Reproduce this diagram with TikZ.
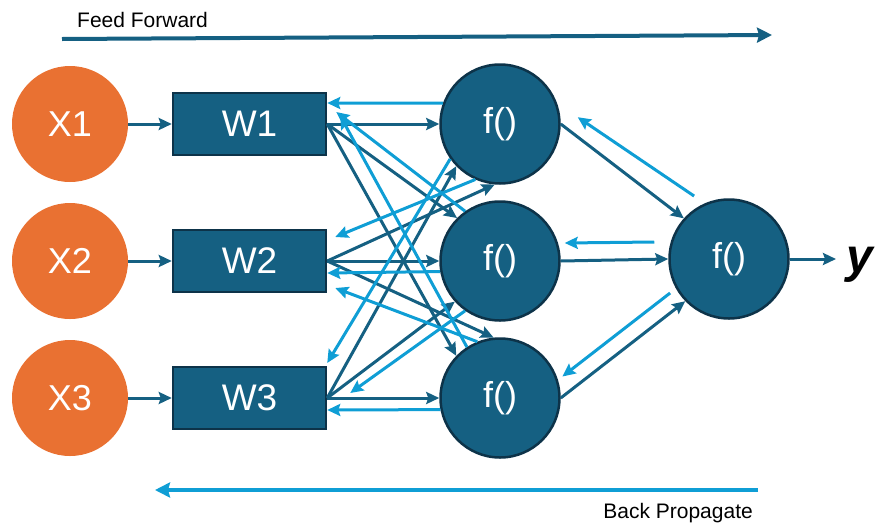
\documentclass[tikz,border=0pt]{standalone}
\usepackage{fontspec}
\setmainfont{Liberation Sans}
\usetikzlibrary{arrows.meta,calc}

\definecolor{nnorange}{HTML}{E97132}
\definecolor{nnblue}{HTML}{156082}
\definecolor{nnedge}{HTML}{0D3349}
\definecolor{nnlight}{HTML}{0F9ED5}

\tikzset{
  xnode/.style={circle, fill=nnorange, minimum size=116pt, inner sep=0pt,
    text=white, font=\fontsize{36}{36}\selectfont},
  wbox/.style={rectangle, fill=nnblue, draw=nnedge, line width=2.5pt,
    minimum width=153pt, minimum height=62pt, inner sep=0pt,
    text=white, font=\fontsize{37}{37}\selectfont},
  fnode/.style={circle, fill=nnblue, draw=nnedge, line width=2.5pt,
    minimum size=119pt, inner sep=0pt,
    text=white, font=\fontsize{36}{36}\selectfont},
  tip/.style={-{Stealth[length=13pt,width=12pt,inset=2pt]}},
  fwd/.style={draw=nnblue, line width=3pt, tip},
  bwd/.style={draw=nnlight, line width=3pt, tip},
  bigtip/.style={-{Stealth[length=15pt,width=15pt,inset=2pt]}},
  lab/.style={font=\fontsize{21}{21}\selectfont, text=black, inner sep=0pt},
}

\begin{document}
\begin{tikzpicture}[x=1pt,y=-1pt]
\useasboundingbox (0,0) rectangle (878,528);

% inputs, weights, hidden layer, output
\node[xnode] (X1) at (70,124) {X1};
\node[xnode] (X2) at (70,261) {X2};
\node[xnode] (X3) at (70,398) {X3};

\node[wbox] (W1) at (249.5,124) {W1};
\node[wbox] (W2) at (249.5,261) {W2};
\node[wbox] (W3) at (249.5,398) {W3};

\node[fnode] (F1) at (500,124) {f()};
\node[fnode] (F2) at (500,261) {f()};
\node[fnode] (F3) at (500,398) {f()};

\node[fnode] (O) at (729,259) {f()};
\node[anchor=base west, inner sep=0pt, font=\fontsize{48}{48}\selectfont\bfseries\itshape]
  (Y) at (846,272) {y};

% inputs into weights
\draw[fwd] (X1) -- (W1);
\draw[fwd] (X2) -- (W2);
\draw[fwd] (X3) -- (W3);

% forward pass: weights to hidden units
\draw[fwd] (W1.east) -- (F1.west);
\draw[fwd] (W1.east) -- (F2.135);
\draw[fwd] (W1.east) -- (F3.136);
\draw[fwd] (W2.east) -- (F1.265);
\draw[fwd] (W2.east) -- (F2.west);
\draw[fwd] (W2.east) -- (F3.96);
\draw[fwd] (W3.east) -- (F1.224);
\draw[fwd] (W3.east) -- (F2.222);
\draw[fwd] (W3.east) -- (F3.west);

% backward pass: hidden units to weights
\draw[bwd] (F1.160) -- ([yshift=21pt]W1.east);
\draw[bwd] (F2.125) -- ([xshift=9pt,yshift=12pt]W1.east);
\draw[bwd] (F3.123) -- ([xshift=13pt,yshift=8pt]W1.east);
\draw[bwd] (F1.246) -- ([xshift=8pt,yshift=24pt]W2.east);
\draw[bwd] (F2.190) -- ([yshift=-12pt]W2.east);
\draw[bwd] (F3.112) -- ([xshift=8pt,yshift=-27pt]W2.east);
\draw[bwd] (F1.215) -- ([yshift=35pt]W3.east);
\draw[bwd] (F2.235) -- ([xshift=23pt,yshift=5pt]W3.east);
\draw[bwd] (F3.191) -- ([yshift=-12pt]W3.east);

% hidden units to output unit and back
\draw[fwd] (F1.east) -- (O.138);
\draw[bwd] ($(O.center)+(119:72pt)$) -- ($(F1.center)+(5:78pt)$);
\draw[bwd] ([xshift=-14pt,yshift=17pt]O.west) -- ([xshift=4pt,yshift=18pt]F2.east);
\draw[fwd] (F2.east) -- (O.west);
\draw[bwd] ($(O.center)+(210:68pt)$) -- ($(F3.center)+(19:66pt)$);
\draw[fwd] (F3.east) -- (O.224);

% output
\draw[fwd, shorten >=10pt] (O.east) -- (O.east -| Y.west);

% direction arrows
\coordinate (ffL) at (62,39);
\coordinate (ffR) at (772,35);
\draw[draw=nnblue, line width=4pt, bigtip] (ffL) -- (ffR);
\node[lab, anchor=west] (fftxt) at (77,20) {Feed Forward};

\coordinate (bpR) at (758,490);
\coordinate (bpL) at (155,490);
\draw[draw=nnlight, line width=4pt, bigtip] (bpR) -- (bpL);
\node[lab, anchor=east] (bptxt) at (753,513) {Back Propagate};
\end{tikzpicture}
\end{document}
